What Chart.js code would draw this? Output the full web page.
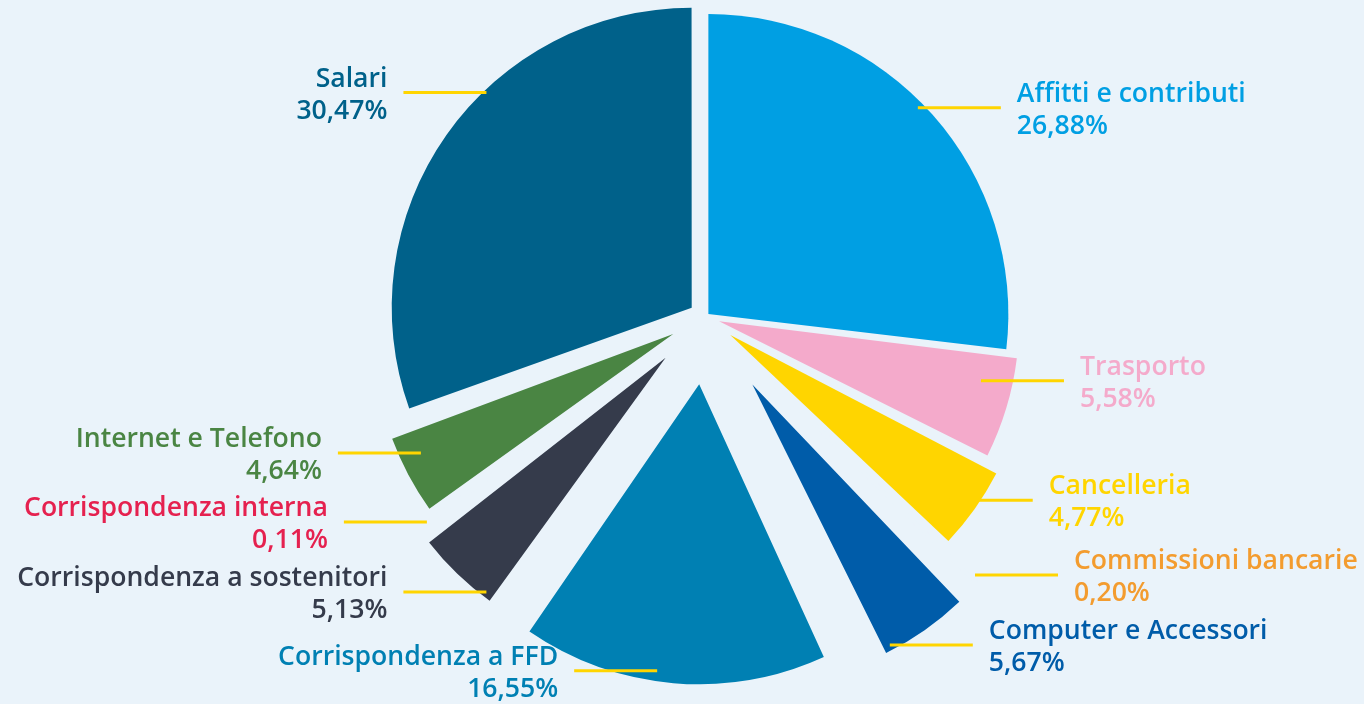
<!DOCTYPE html>
<html lang="it">
<head>
<meta charset="utf-8">
<title>Ripartizione delle spese</title>
<script src="https://cdn.jsdelivr.net/npm/chart.js@4.4.1/dist/chart.umd.min.js"></script>
<style>
  html, body { margin: 0; padding: 0; background: #eaf3fa; overflow: hidden; }
  #contenitore { width: 1364px; height: 704px; }
</style>
</head>
<body>
<div id="contenitore"><canvas id="graficoTorta" width="1364" height="704"></canvas></div>
<script>
// Dati del grafico (ordine orario partendo dall'alto)
const categorie = [
  'Affitti e contributi', 'Trasporto', 'Cancelleria', 'Commissioni bancarie',
  'Computer e Accessori', 'Corrispondenza a FFD', 'Corrispondenza a sostenitori',
  'Corrispondenza interna', 'Internet e Telefono', 'Salari'
];
const percentuali = [26.88, 5.58, 4.77, 0.20, 5.67, 16.55, 5.13, 0.11, 4.64, 30.47];
const colori = [
  '#009fe3', '#f4aacb', '#ffd500', '#f39c2f', '#005ca9',
  '#0080b3', '#353b4b', '#e5214f', '#4a8543', '#00618a'
];

const SFONDO = '#eaf3fa';

// Chart.js allarga il raggio delle fette staccate: qui lo riportiamo uguale per tutte
const raggioUniforme = {
  id: 'raggioUniforme',
  beforeDatasetsDraw(chart) {
    const meta = chart.getDatasetMeta(0);
    const base = meta.controller.outerRadius;
    meta.data.forEach(function (arc) {
      const o = (arc.options.offset || 0) / 4;
      const fix = 1 - Math.sin(Math.min(Math.PI, arc.circumference));
      arc.outerRadius = base - o * fix;
    });
  }
};

// Etichette esterne con linea gialla
const etichette = {
  id: 'etichette',
  afterDatasetsDraw(chart, args, opts) {
    const ctx = chart.ctx;
    const meta = chart.getDatasetMeta(0);
    const R = meta.controller.outerRadius;
    meta.data.forEach(function (arc, i) {
      const o = (arc.options.offset || 0) / 4;
      const ang = (arc.startAngle + arc.endAngle) / 2 + opts.spostamento[i] * Math.PI / 180;
      const dist = o + opts.portata[i] * R;
      const ax = arc.x + Math.cos(ang) * dist;
      const ay = arc.y + Math.sin(ang) * dist;
      const sinistra = ax < arc.x;
      const bx = sinistra ? ax - opts.lunghezza : ax + opts.lunghezza;

      ctx.save();
      ctx.strokeStyle = '#ffd500';
      ctx.lineWidth = 3;
      ctx.beginPath();
      ctx.moveTo(ax, ay);
      ctx.lineTo(bx, ay);
      ctx.stroke();

      ctx.fillStyle = colori[i];
      ctx.font = '600 26.6px "Open Sans", "Noto Sans", sans-serif';
      ctx.textAlign = sinistra ? 'right' : 'left';
      ctx.textBaseline = 'alphabetic';
      const tx = sinistra ? bx - 16 : bx + 16;
      ctx.fillText(categorie[i], tx, ay - 6);
      ctx.fillText(percentuali[i].toFixed(2).replace('.', ',') + '%', tx, ay + 26);
      ctx.restore();
    });
  }
};

const ctx = document.getElementById('graficoTorta');
new Chart(ctx, {
  type: 'pie',
  data: {
    labels: categorie,
    datasets: [{
      data: percentuali,
      backgroundColor: colori,
      borderColor: SFONDO,
      // solo le due fette minime hanno il bordo color sfondo (nel grafico non si vedono)
      borderWidth: [0, 0, 0, 4, 0, 0, 0, 4, 0, 0],
      radius: 300,
      offset: [18, 59, 124, 320, 330, 270, 227, 200, 144, 65],
      hoverOffset: 0
    }]
  },
  options: {
    responsive: false,
    animation: false,
    layout: { padding: { left: 46, right: 0, top: 0, bottom: 70 } },
    plugins: {
      legend: { display: false },
      tooltip: { enabled: false },
      etichette: {
        lunghezza: 83,
        spostamento: [-2.9, -3.8, 1.4, -0.7, 5.65, 2.75, -5.5, 0.2, 2.45, 10.6],
        portata: [0.98, 0.895, 0.916, 0.978, 0.98, 0.965, 0.982, 0.985, 0.93, 0.99]
      }
    }
  },
  plugins: [raggioUniforme, etichette]
});
</script>
</body>
</html>
